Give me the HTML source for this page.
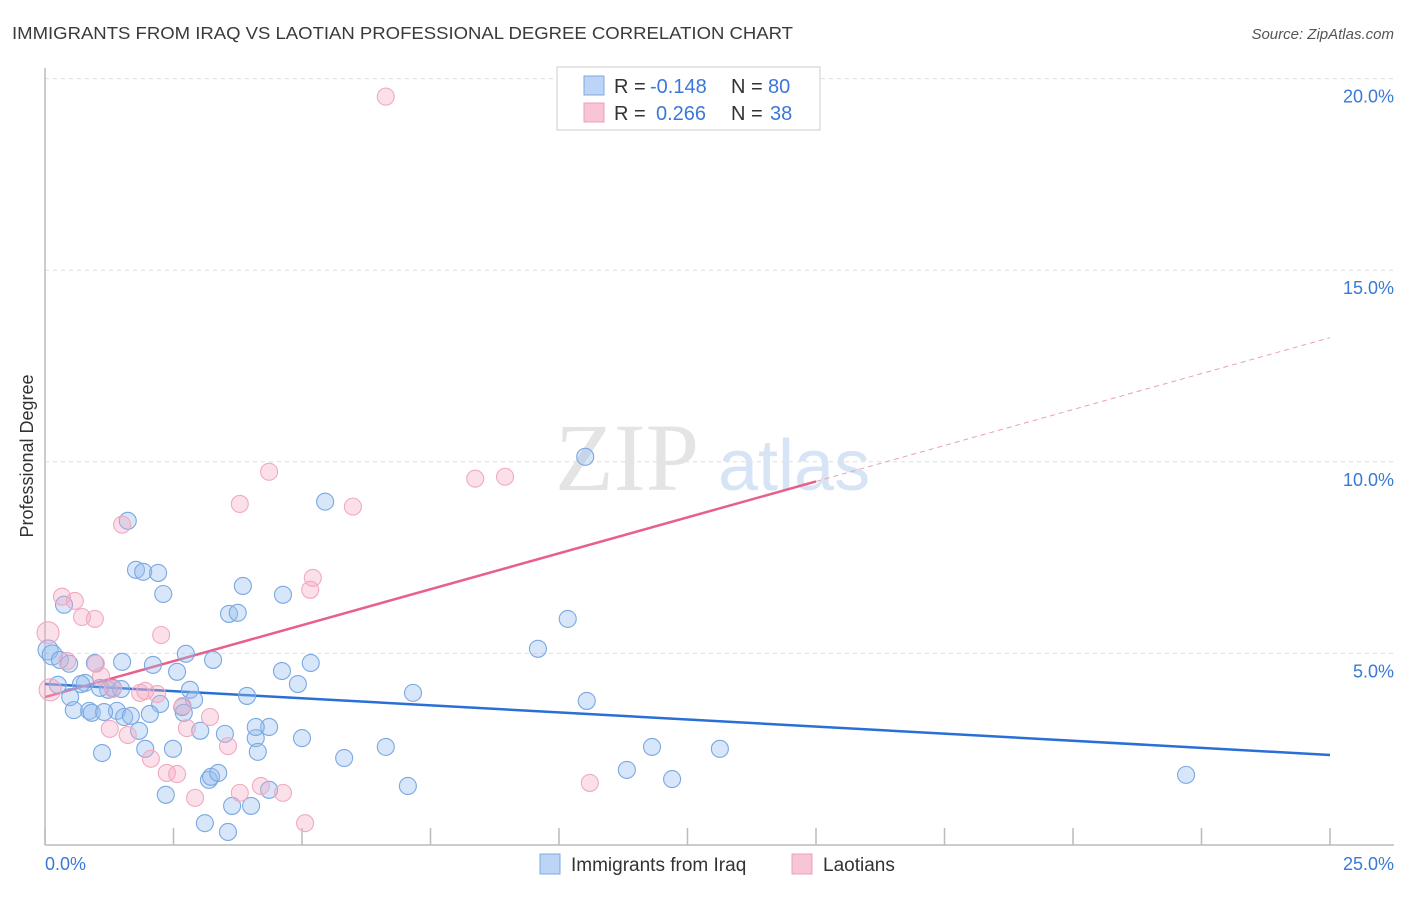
<!DOCTYPE html>
<html><head><meta charset="utf-8"><style>
body{margin:0;background:#fff;font-family:"Liberation Sans",sans-serif}
</style></head><body>
<svg id="chart" width="1406" height="892" xmlns="http://www.w3.org/2000/svg" font-family="Liberation Sans, sans-serif">
<text x="12" y="39" font-size="17.5" fill="#3a3a3a" textLength="781" lengthAdjust="spacingAndGlyphs">IMMIGRANTS FROM IRAQ VS LAOTIAN PROFESSIONAL DEGREE CORRELATION CHART</text>
<text x="1394" y="39" font-size="15" fill="#555" text-anchor="end" font-style="italic">Source: ZipAtlas.com</text>
<g id="grid"></g>
<text x="555" y="490" font-size="96" fill="#e4e4e4" font-family="Liberation Serif, serif">ZIP</text>
<text x="718" y="490" font-size="72" fill="#d6e4f5">atlas</text>
<line x1="45" y1="68" x2="45" y2="845" stroke="#bbb" stroke-width="1.5"/>
<line x1="45" y1="845" x2="1394" y2="845" stroke="#bbb" stroke-width="1.5"/>
<text transform="translate(33,456) rotate(-90)" font-size="18" fill="#333" text-anchor="middle">Professional Degree</text>
<text x="45" y="870" font-size="18" fill="#3b78d8">0.0%</text>
<text x="1394" y="870" font-size="18" fill="#3b78d8" text-anchor="end">25.0%</text>
<g id="lines"></g>
<g id="points"></g>
<g font-size="20">
<rect x="557" y="67" width="263" height="63" fill="#fff" stroke="#ccc"/>
<rect x="584" y="76" width="20" height="19" fill="#bcd4f5" stroke="#7fa8e0"/>
<rect x="584" y="103" width="20" height="19" fill="#f8c5d5" stroke="#eda0b8"/>
<text x="614" y="93" fill="#333">R =</text>
<text x="650" y="93" fill="#3b78d8">-0.148</text>
<text x="731" y="93" fill="#333">N =</text>
<text x="768" y="93" fill="#3b78d8">80</text>
<text x="614" y="120" fill="#333">R =</text>
<text x="656" y="120" fill="#3b78d8">0.266</text>
<text x="731" y="120" fill="#333">N =</text>
<text x="770" y="120" fill="#3b78d8">38</text>
</g>
<g>
<rect x="540" y="854" width="20" height="20" fill="#bcd4f5" stroke="#7fa8e0"/>
<text x="571" y="871" font-size="19" fill="#333">Immigrants from Iraq</text>
<rect x="792" y="854" width="20" height="20" fill="#f8c5d5" stroke="#eda0b8"/>
<text x="823" y="871" font-size="19" fill="#333">Laotians</text>
</g>
</svg>
<script>
const yTicks=[5,10,15,20];
const xTicks=[0,2.5,5,7.5,10,12.5,15,17.5,20,22.5,25];
const iraqX=[1.61,1.77,1.91,2.20,2.30,0.37,3.58,3.75,3.85,4.63,5.45,10.51,10.17,9.59,0.06,0.14,0.29,0.47,0.97,1.50,2.10,2.57,2.74,3.27,4.61,5.17,4.92,3.93,2.82,2.90,2.67,2.70,2.24,2.04,1.40,1.23,1.32,1.07,0.78,0.70,0.49,0.25,0.56,0.86,0.91,1.15,1.54,1.67,1.83,1.95,2.49,3.02,3.50,4.10,4.36,5.00,5.82,6.63,7.16,10.54,11.81,13.13,11.32,12.20,22.20,1.11,2.35,3.19,3.23,3.37,4.14,4.36,3.64,4.01,3.11,3.56,7.06,4.10,1.48];
const iraqY=[8.46,7.18,7.13,7.10,6.55,6.27,6.03,6.06,6.76,6.53,8.96,10.13,5.90,5.12,5.09,4.96,4.83,4.73,4.75,4.78,4.70,4.52,4.99,4.83,4.54,4.75,4.20,3.89,4.05,3.79,3.60,3.45,3.68,3.42,3.50,4.05,4.10,4.10,4.23,4.20,3.86,4.18,3.52,3.50,3.45,3.47,3.34,3.37,2.98,2.51,2.51,2.98,2.90,2.79,3.08,2.79,2.27,2.56,3.97,3.76,2.56,2.51,1.96,1.72,1.83,2.40,1.31,1.70,1.78,1.88,2.43,1.44,1.02,1.02,0.57,0.34,1.54,3.08,4.07];
const laoX=[6.63,4.36,3.79,5.99,8.37,8.95,5.21,5.16,1.50,0.33,0.58,0.72,0.97,0.06,2.26,0.43,0.99,1.09,1.32,1.85,1.95,2.18,1.26,1.61,2.06,2.68,3.21,2.76,3.56,2.37,2.57,2.92,3.79,4.20,4.63,5.06,10.60,0.10];
const laoY=[19.53,9.74,8.90,8.83,9.56,9.61,6.97,6.66,8.36,6.48,6.37,5.95,5.90,5.54,5.48,4.80,4.73,4.41,4.07,3.97,4.02,3.94,3.03,2.87,2.25,3.63,3.34,3.05,2.58,1.88,1.85,1.23,1.36,1.54,1.36,0.57,1.62,4.05];
const iraqTrend=[4.20,2.35];
const laoTrend=[3.86,13.24];
const laoSolidEnd=15;
const NS='http://www.w3.org/2000/svg';
const sx=v=>45+v/25*1285, sy=v=>845-v*38.32;
function mk(t,a,p){const e=document.createElementNS(NS,t);for(const k in a)e.setAttribute(k,a[k]);p.appendChild(e);return e;}
const grid=document.getElementById('grid');
yTicks.forEach(t=>{
 const l=mk('line',{x1:45,x2:1394,y1:sy(t),y2:sy(t),stroke:'#ddd','stroke-dasharray':'4,4'},grid);
 
 
 const tx=mk('text',{x:1394,y:sy(t)+24,'font-size':18,fill:'#3b78d8','text-anchor':'end'},grid);
 tx.textContent=t.toFixed(1)+'%';
 
 
});
xTicks.forEach(t=>{
 const l=mk('line',{x1:sx(t),x2:sx(t),y1:828,y2:845,stroke:'#bbb','stroke-width':1.5},grid);
 
 
});
const pts=document.getElementById('points');
iraqX.forEach((x,i)=>{
 const c=mk('circle',{cx:sx(x),cy:sy(iraqY[i]),r:(x<0.2?10:8.5),fill:'rgba(150,190,240,0.38)',stroke:'#7aa8e2','stroke-width':1.1},pts);
 
 
});
laoX.forEach((x,i)=>{
 const c=mk('circle',{cx:sx(x),cy:sy(laoY[i]),r:(x<0.2?11:8.5),fill:'rgba(245,170,195,0.36)',stroke:'#f0aac0','stroke-width':1.1},pts);
 
 
});
const ln=document.getElementById('lines');
const b=mk('line',{x1:sx(0),y1:sy(iraqTrend[0]),x2:sx(25),y2:sy(iraqTrend[1]),stroke:'#2a6fd6','stroke-width':2.5},ln);


const midY=laoTrend[0]+(laoTrend[1]-laoTrend[0])*laoSolidEnd/25;
const p1=mk('line',{x1:sx(0),y1:sy(laoTrend[0]),x2:sx(laoSolidEnd),y2:sy(midY),stroke:'#e8608a','stroke-width':2.5},ln);


const p2=mk('line',{x1:sx(laoSolidEnd),y1:sy(midY),x2:sx(25),y2:sy(laoTrend[1]),stroke:'#e8a0b5','stroke-width':1,'stroke-dasharray':'5,4'},ln);


</script>
</body></html>
